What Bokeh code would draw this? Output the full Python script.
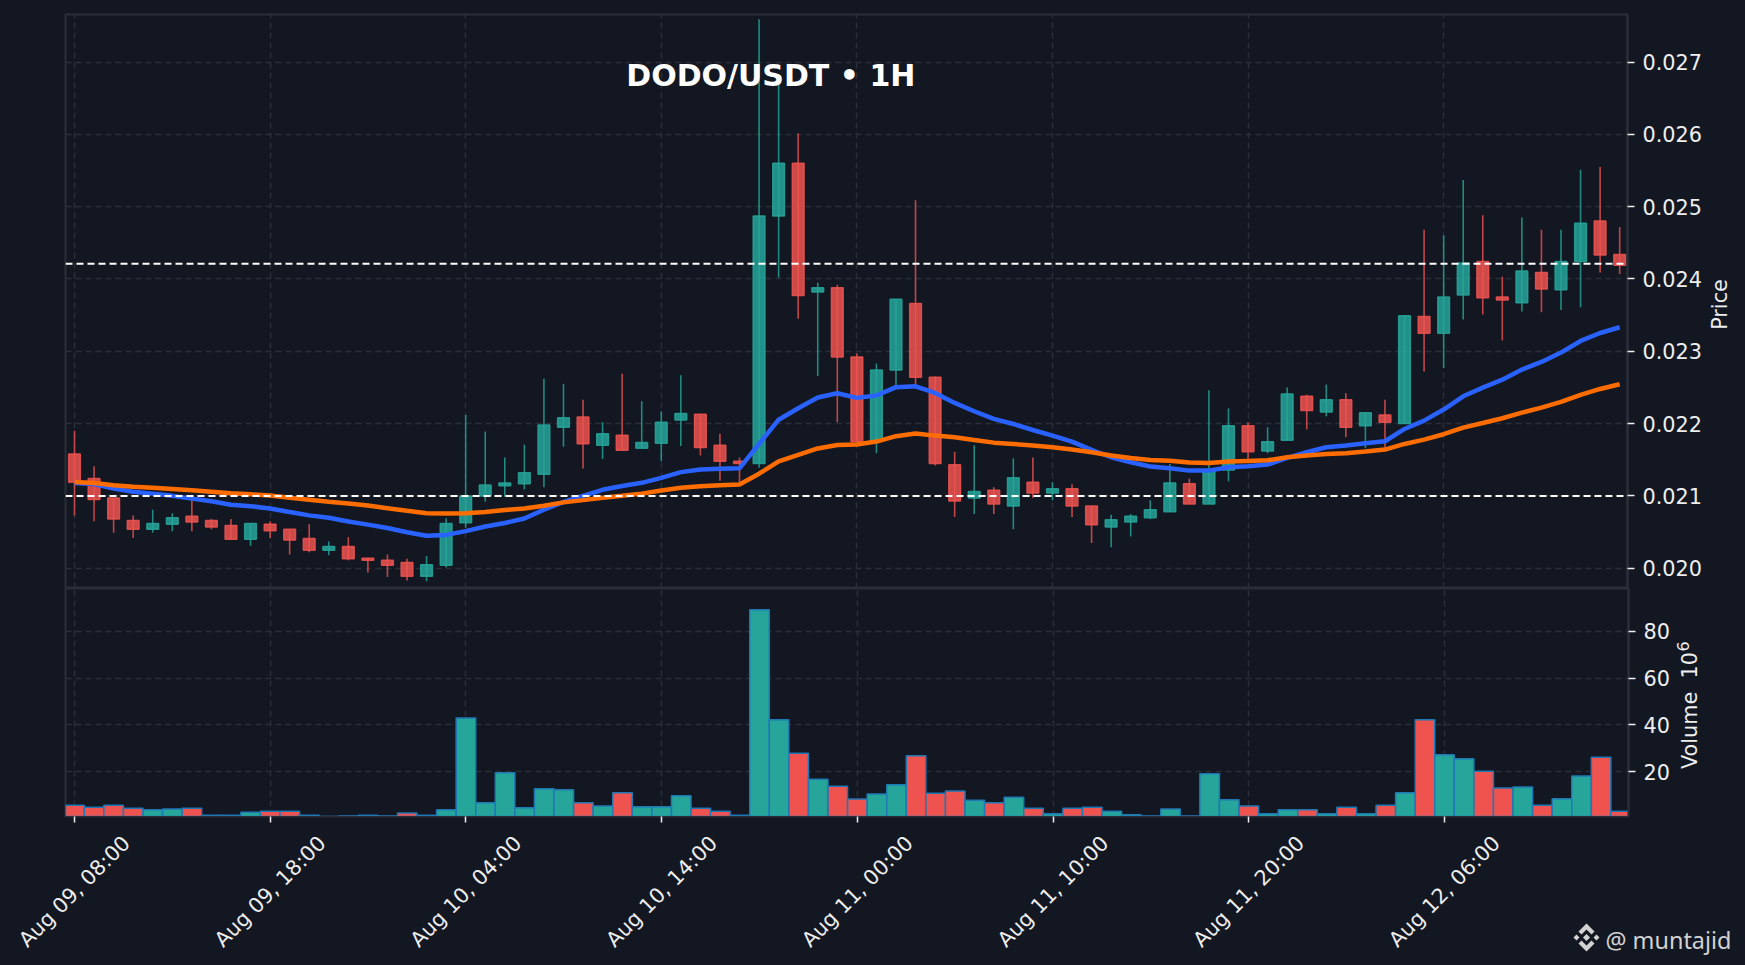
import math
from bokeh.core.properties import value
from bokeh.embed import file_html
from bokeh.resources import INLINE
from bokeh.plotting import figure
from bokeh.layouts import column, row
from bokeh.models import (ColumnDataSource, FixedTicker, Label, Range1d, Span, NumeralTickFormatter)

TITLE = "DODO/USDT \u2022 1H"
WATERMARK = "@ muntajid"
BG = "#131722"
EDGE = "#2a2e39"
INK = "#eeeeee"
UP = "#26A69A"
DOWN = "#EF5350"

highs = [.02190,.02141,.02097,.02073,.02081,.02076,.02095,.02068,.02068,.02062,.02065,.02054,.02061,.02037,.02043,.02015,.02019,.02013,.02017,.02069,
         .02212,.02189,.02153,.02171,.02262,.02255,.02233,.02202,.02269,.02231,.02217,.02267,.02213,.02186,.02153,.02759,.02678,.02601,.02395,.02392,
         .02297,.02283,.02372,.02509,.02265,.02161,.02170,.02112,.02152,.02153,.02119,.02116,.02086,.02074,.02075,.02094,.02144,.02124,.02246,.02221,
         .02202,.02195,.02250,.02240,.02254,.02242,.02215,.02233,.02350,.02468,.02460,.02537,.02488,.02403,.02485,.02468,.02468,.02551,.02555,.02472]
lows = [.02073,.02065,.02049,.02042,.02049,.02051,.02051,.02054,.02040,.02031,.02042,.02019,.02022,.02018,.02011,.01994,.01988,.01983,.01982,.02001,
        .02056,.02092,.02099,.02109,.02112,.02168,.02138,.02151,.02163,.02166,.02148,.02169,.02156,.02121,.02119,.02139,.02402,.02345,.02266,.02202,
        .02175,.02159,.02252,.02254,.02142,.02071,.02075,.02075,.02054,.02097,.02094,.02071,.02035,.02029,.02044,.02068,.02078,.02089,.02089,.02120,
        .02147,.02159,.02177,.02192,.02210,.02181,.02166,.02167,.02200,.02272,.02277,.02344,.02351,.02315,.02355,.02354,.02357,.02361,.02409,.02407]
opens = [.02158,.02124,.02097,.02066,.02054,.02061,.02072,.02066,.02059,.02040,.02061,.02054,.02041,.02025,.02030,.02014,.02011,.02008,.01989,.02004,
         .02063,.02100,.02114,.02117,.02130,.02195,.02209,.02170,.02184,.02166,.02173,.02205,.02213,.02170,.02148,.02145,.02487,.02560,.02382,.02388,
         .02292,.02176,.02274,.02366,.02264,.02143,.02097,.02108,.02086,.02119,.02104,.02110,.02086,.02057,.02064,.02070,.02078,.02117,.02089,.02136,
         .02197,.02162,.02177,.02238,.02216,.02233,.02197,.02212,.02200,.02348,.02325,.02378,.02424,.02375,.02367,.02409,.02385,.02424,.02480,.02434]
closes = [.02119,.02095,.02068,.02054,.02062,.02070,.02064,.02057,.02040,.02062,.02052,.02039,.02025,.02030,.02013,.02011,.02004,.01989,.02005,.02062,
          .02100,.02115,.02118,.02132,.02198,.02208,.02172,.02186,.02163,.02174,.02202,.02214,.02167,.02148,.02145,.02487,.02560,.02377,.02388,.02292,
          .02175,.02274,.02372,.02264,.02145,.02093,.02106,.02089,.02125,.02104,.02110,.02086,.02060,.02067,.02072,.02081,.02118,.02089,.02134,.02197,
          .02161,.02175,.02241,.02218,.02233,.02195,.02215,.02202,.02349,.02325,.02375,.02422,.02374,.02371,.02411,.02386,.02424,.02477,.02433,.02419]
ema_fast = [.02118,.021165,.021101,.021059,.021032,.021001,.020963,.020926,.020879,.020858,.020826,.020778,.020731,.020699,.020646,.020603,.020556,.020498,.020450,.020461,
            .020513,.020577,.020625,.020688,.020810,.020916,.021001,.021085,.021138,.021181,.021249,.021329,.021366,.021376,.021382,.021720,.022054,.022213,.022361,.022419,
            .022356,.022388,.022504,.022515,.022424,.022286,.022171,.022065,.021995,.021912,.021834,.021751,.021636,.021535,.021465,.021406,.021382,.021350,.021350,.021396,
            .021410,.021433,.021525,.021604,.021673,.021696,.021728,.021756,.021926,.022041,.022194,.022378,.022498,.022608,.022747,.022853,.022982,.023143,.023253,.023332]
ema_slow = [.021191,.021180,.021149,.021128,.021112,.021096,.021080,.021059,.021038,.021022,.021006,.020974,.020948,.020921,.020895,.020868,.020831,.020794,.020762,.020757,
            .020762,.020778,.020805,.020826,.020863,.020911,.020942,.020974,.021001,.021032,.021075,.021112,.021133,.021149,.021159,.021308,.021477,.021567,.021657,.021705,
            .021710,.021752,.021826,.021863,.021834,.021811,.021774,.021737,.021719,.021696,.021673,.021641,.021604,.021558,.021525,.021498,.021488,.021461,.021456,.021475,
            .021484,.021493,.021535,.021558,.021581,.021590,.021613,.021641,.021719,.021779,.021853,.021945,.022009,.022074,.022152,.022221,.022300,.022396,.022479,.022544]
volumes = [5.7,4.8,5.7,4.4,3.7,4.1,4.4,1.4,1.4,2.7,3.1,3.1,1.4,0.9,1.1,1.4,1.1,2.3,1.4,3.7,
           43.0,6.7,19.5,4.6,12.7,12.3,6.7,5.3,11.0,5.0,5.0,9.7,4.4,3.1,1.4,89.2,42.2,27.9,16.8,13.8,
           8.3,10.5,14.4,26.8,10.8,11.7,7.8,6.7,9.1,4.4,2.0,4.4,4.8,3.1,1.6,1.1,4.1,1.1,19.1,8.0,
           5.3,2.0,3.7,3.7,2.0,4.8,2.0,5.7,11.0,42.2,27.2,25.5,20.2,13.0,13.5,5.7,8.4,18.2,26.2,3.1]
levels = [0.021, 0.02421]
x_ticks = [0, 10, 20, 30, 40, 50, 60, 70]
x_labels = ["Aug 09, 08:00", "Aug 09, 18:00", "Aug 10, 04:00", "Aug 10, 14:00",
            "Aug 11, 00:00", "Aug 11, 10:00", "Aug 11, 20:00", "Aug 12, 06:00"]
price_ticks = [0.020, 0.021, 0.022, 0.023, 0.024, 0.025, 0.026, 0.027]
volume_ticks = [20, 40, 60, 80]

idx = list(range(len(opens)))
colors = [UP if c >= o else DOWN for o, c in zip(opens, closes)]
src = ColumnDataSource(dict(
    x=idx, high=highs, low=lows, top=[max(a, b) for a, b in zip(opens, closes)],
    bottom=[min(a, b) for a, b in zip(opens, closes)], color=colors, vol=volumes,
    fast=ema_fast, slow=ema_slow))

W = 1745
PAD_L = 65
FRAME_W = 1563
X0, X1 = -0.46, 79.4
X_RANGE = Range1d(X0, X1)
K = FRAME_W / (X1 - X0)   # pixels per candle
P0, P1 = 0.01972, 0.027657
V0, V1 = 0.85, 98.3
PRICE_W, VOLUME_W = 1705, 1675
PRICE_H, VOLUME_H = 588, 236

def ux(px):
    return X0 + (px - PAD_L) / K

def style(p):
    p.frame_align = False
    p.background_fill_color = BG
    p.border_fill_color = BG
    p.outline_line_color = EDGE
    p.outline_line_width = 2
    p.xgrid.ticker = FixedTicker(ticks=x_ticks)
    for g in (p.xgrid, p.ygrid):
        g.grid_line_color = EDGE
        g.grid_line_width = 1.5
        g.grid_line_dash = "6 4"
    ax = p.yaxis[0]
    ax.axis_line_color = EDGE
    ax.axis_line_width = 2
    ax.major_tick_line_color = INK
    ax.major_tick_line_width = 1.5
    ax.major_tick_out = 7
    ax.major_tick_in = 0
    ax.minor_tick_line_color = None
    ax.major_label_text_color = INK
    ax.major_label_text_font = "DejaVu Sans"
    ax.major_label_text_font_size = "20.8px"
    ax.major_label_standoff = 8

def blank(width, height, x_range, y_range):
    f = figure(frame_width=width, frame_height=height, x_axis_location=None, y_axis_location=None,
               x_range=x_range, y_range=y_range, output_backend="svg", toolbar_location=None,
               min_border=0, min_border_left=0, min_border_right=0, min_border_top=0, min_border_bottom=0)
    f.frame_align = False
    f.background_fill_color = BG
    f.border_fill_color = BG
    f.outline_line_color = None
    f.grid.visible = False
    return f

def side_text(f, text, x, y, size="20.8px"):
    f.text([x], [y], text=[text], angle=math.pi / 2, text_align="center", text_baseline="middle",
           text_color=INK, text_font=value("DejaVu Sans"), text_font_size=size)

# ---------- price panel ----------
price = figure(width=PRICE_W, height=PRICE_H, x_range=X_RANGE, y_range=Range1d(P0, P1),
               y_axis_location="right", output_backend="svg", toolbar_location=None,
               min_border_left=PAD_L, min_border_right=PRICE_W - PAD_L - FRAME_W,
               min_border_top=14, min_border_bottom=0)
style(price)
price.xaxis.visible = False
price.yaxis[0].ticker = FixedTicker(ticks=price_ticks)
price.yaxis[0].formatter = NumeralTickFormatter(format="0.000")

price.segment("x", "high", "x", "low", source=src, line_color="color", line_width=1.6, line_alpha=0.8)
price.vbar("x", 0.6, "top", "bottom", source=src, fill_color="color", line_color="color",
           fill_alpha=0.85, line_alpha=0.85, line_width=1.5)
price.line("x", "fast", source=src, line_color="#2962FF", line_width=4.5)
price.line("x", "slow", source=src, line_color="#FF6D00", line_width=4.5)
for lv in levels:
    price.add_layout(Span(location=lv, dimension="width", line_color="#ffffff",
                          line_width=2, line_dash="7 4"))
price.add_layout(Label(x=35.6, y=0.02681, text=TITLE, text_color="#ffffff", text_font="DejaVu Sans",
                       text_font_style="bold", text_font_size="30px",
                       text_align="center", text_baseline="middle"))

price_gutter = blank(W - PRICE_W, PRICE_H, Range1d(0, W - PRICE_W), Range1d(PRICE_H, 0))
side_text(price_gutter, "Price", 14, 304)

# ---------- volume panel ----------
volume = figure(width=VOLUME_W, height=VOLUME_H, x_range=X_RANGE, y_range=Range1d(V0, V1),
                y_axis_location="right", output_backend="svg", toolbar_location=None,
                min_border_left=PAD_L, min_border_right=VOLUME_W - PAD_L - FRAME_W,
                min_border_top=0, min_border_bottom=8)
style(volume)
volume.yaxis[0].ticker = FixedTicker(ticks=volume_ticks)

volume.vbar("x", 1.0, "vol", 0, source=src, fill_color="color", line_color="#1f77b4", line_width=1.5)

xa = volume.xaxis[0]
xa.ticker = FixedTicker(ticks=x_ticks)
xa.major_label_overrides = {t: "" for t in x_ticks}
xa.major_label_text_font_size = "1px"
xa.major_label_standoff = 0
xa.axis_line_color = EDGE
xa.major_tick_line_color = INK
xa.major_tick_line_width = 1.5
xa.major_tick_out = 6
xa.major_tick_in = 0
xa.minor_tick_line_color = None

volume_gutter = blank(W - VOLUME_W, VOLUME_H, Range1d(0, W - VOLUME_W), Range1d(VOLUME_H, 0))
side_text(volume_gutter, "Volume\u00a0\u00a010", 14, 122)
side_text(volume_gutter, "6", 7, 58, size="16px")

# ---------- footer: slanted time labels and watermark ----------
FOOT_H = 141
footer = blank(W, FOOT_H, Range1d(ux(0), ux(W)), Range1d(FOOT_H, 0))
footer.text(x_ticks, [67] * len(x_ticks), text=x_labels, angle=math.pi / 4,
            text_align="center", text_baseline="middle", text_color=INK,
            text_font=value("DejaVu Sans"), text_font_size="20.8px")

ICON_X, ICON_Y = 1586, 113
icon = [
    [(0, -3.6), (3.6, 0), (0, 3.6), (-3.6, 0)],
    [(-10, -3), (-7, 0), (-10, 3), (-13, 0)],
    [(10, -3), (13, 0), (10, 3), (7, 0)],
    [(0, -14), (8, -6), (5, -3), (0, -8), (-5, -3), (-8, -6)],
    [(0, 14), (8, 6), (5, 3), (0, 8), (-5, 3), (-8, 6)],
]
footer.patches([[ux(ICON_X + a) for a, b in s] for s in icon],
               [[ICON_Y + b for a, b in s] for s in icon],
               fill_color="#d2d2d2", line_color=None)
footer.text([ux(1605)], [115], text=[WATERMARK], text_color="#d2d2d2", text_font=value("Noto Sans"),
            text_font_size="23.4px", text_align="left", text_baseline="alphabetic")

page = column(row(price, price_gutter, spacing=0), row(volume, volume_gutter, spacing=0), footer, spacing=0)
html = file_html(page, INLINE)
html = html.replace("<head>", "<head><style>html,body{background:%s;overflow:hidden}</style>" % BG, 1)
open("out.html", "w").write(html)
